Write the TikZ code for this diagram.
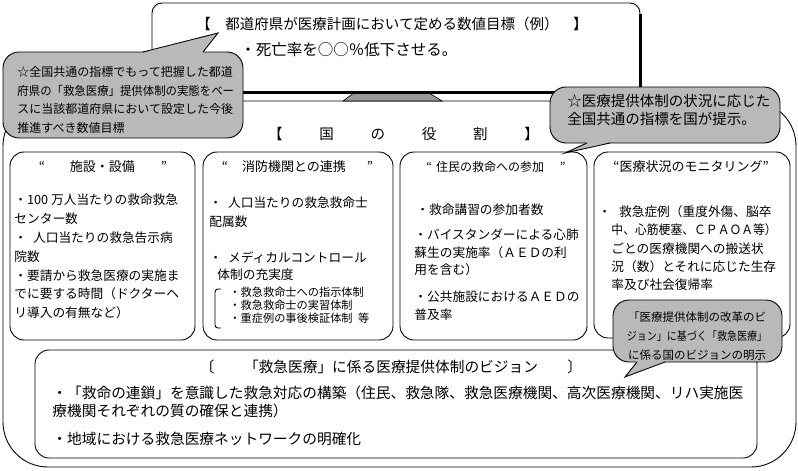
\documentclass[tikz,border=0pt]{standalone}
\usepackage{fontspec}
\usepackage{graphicx}
\setmainfont{Noto Sans CJK JP}

\begin{document}
\begin{tikzpicture}[x=1pt, y=-1pt, line width=0.9pt,
	panel/.style={draw, rounded corners=14pt},
	balloon/.style={fill=gray!55, draw, rounded corners=16pt},
	txt/.style={anchor=west, align=left, inner sep=0pt, font=\fontsize{12.7}{18.8}\selectfont},
	head/.style={inner sep=0pt, font=\fontsize{13}{15}\selectfont}]
	\useasboundingbox (0,0) rectangle (798,471);

	% outer frame and top box
	\draw[rounded corners=45pt] (3,101) rectangle (796,467);
	\draw[rounded corners=10pt] (152,92) -- (152,3) -- (640,3) -- (640,92);
	\draw[line width=3pt] (640,14) -- (640,92) -- (150,92);
	\filldraw[fill=black!40, line width=0.6pt] (353,93.5) -- (343,101) -- (442,101) -- (430,93.5) -- cycle;

	% four panels and the vision box
	\draw[panel] (10,152) rectangle (195,340);
	\draw[panel] (203,152) rectangle (393,340);
	\draw[panel] (400,152) rectangle (587,340);
	\draw[panel] (594,152) rectangle (790,338);
	\draw[panel] (35,350) rectangle (757,458);
	\draw[rounded corners=3pt] (221,289) -- (215,289) -- (215,328) -- (221,328);

	% balloons
	\draw[balloon] (3,52) rectangle (243,138);
	\fill[gray!55] (143,52.8) -- (218,33) -- (203,52.8) -- cycle;
	\draw (143,52) -- (218,33) -- (203,52);

	\draw[balloon] (550,87) rectangle (780,143);
	\fill[gray!55] (587,142.2) -- (565,153) -- (610,142.2) -- cycle;
	\draw (587,143) -- (565,153) -- (610,143);

	\draw[balloon] (613,300) rectangle (782,362);
	\fill[gray!55] (637,361.2) -- (625,377) -- (665,361.2) -- cycle;
	\draw (637,362) -- (625,377) -- (665,362);

	% texts of the top box
	\node[inner sep=0pt, font=\fontsize{14.5}{16}\selectfont] (goal) at (392,24) {【　都道府県が医療計画において定める数値目標（例）　】};
	\node[anchor=west, inner sep=0pt, font=\fontsize{15.5}{17}\selectfont] (death) at (240,50) {・死亡率を○○％低下させる。};
	\node[inner sep=0pt, font=\fontsize{14.5}{16}\selectfont] (role) at (403.5,134) {【\hspace{36.8pt}国\hspace{36.8pt}の\hspace{36.8pt}役\hspace{36.8pt}割\hspace{36.8pt}】};

	% panel heads
	\node[head] (h1) at (103,167) {“\hspace{25pt}施設・設備\hspace{26pt}”};
	\node[head] (h2) at (297.5,167) {“\hspace{14pt}消防機関との連携\hspace{21pt}”};
	\node[head, font=\fontsize{12}{14}\selectfont] (h3) at (496,167) {“\hspace{4pt}住民の救命への参加\hspace{16pt}”};
	\node[head] (h4) at (691,167) {“医療状況のモニタリング”};

	% panel texts
	\node[txt] (b1) at (14,256.5) {・100 万人当たりの救命救急\\センター数\\・\hspace{6pt}人口当たりの救急告示病\\院数\\・要請から救急医療の実施ま\\でに要する時間（ドクターヘ\\リ導入の有無など）};

	\node[txt, font=\fontsize{12.7}{19}\selectfont] (b2a) at (209,212.5) {・\hspace{6pt}人口当たりの救急救命士\\配属数};
	\node[txt, font=\fontsize{12.7}{17}\selectfont] (b2b) at (209,266.5) {・\hspace{6pt}メディカルコントロール\\\hspace*{8pt}体制の充実度};
	\node[txt, font=\fontsize{11.2}{13}\selectfont] (b2c) at (229,305) {・救急救命士への指示体制\\・救急救命士の実習体制\\・重症例の事後検証体制\hspace{0.5em}等};

	\node[txt] (b3a) at (416,210) {・救命講習の参加者数};
	\node[txt, font=\fontsize{12.7}{17.5}\selectfont] (b3b) at (414,252.5) {・バイスタンダーによる心肺\\蘇生の実施率（ＡＥＤの利\\用を含む）};
	\node[txt, font=\fontsize{12.7}{18}\selectfont] (b3c) at (414,306) {・公共施設におけるＡＥＤの\\普及率};

	\node[txt] (b4a) at (598,212) {・\hspace{8pt}救急症例（重度外傷、脳卒};
	\node[txt, font=\fontsize{12.7}{18.3}\selectfont] (b4b) at (611,257.5) {\scalebox{0.93}[1]{中、心筋梗塞、ＣＰＡＯＡ等）}\\ごとの医療機関への搬送状\\況（数）とそれに応じた生存\\率及び社会復帰率};

	% vision box texts
	\node[inner sep=0pt, font=\fontsize{14.7}{16}\selectfont] (vis) at (391,367) {〔　　「救急医療」に係る医療提供体制のビジョン　　〕};
	\node[txt, font=\fontsize{14.7}{18.5}\selectfont] (v1) at (52,402) {・「救命の連鎖」を意識した救急対応の構築（住民、救急隊、救急医療機関、高次医療機関、リハ実施医\\療機関それぞれの質の確保と連携）};
	\node[txt, font=\fontsize{14.7}{16}\selectfont] (v2) at (52,439) {・地域における救急医療ネットワークの明確化};

	% balloon texts
	\node[txt, font=\fontsize{12}{18.7}\selectfont] (lc) at (17,100) {☆全国共通の指標でもって把握した都道\\\scalebox{0.95}[1]{府県の「救急医療」提供体制の実態をベー}\\スに当該都道府県において設定した今後\\推進すべき数値目標};
	\node[txt, font=\fontsize{14.5}{18}\selectfont] (rc) at (567,109.5) {☆医療提供体制の状況に応じた\\全国共通の指標を国が提示。};
	\node[inner sep=0pt, align=center, font=\fontsize{11.5}{19}\selectfont] (bc) at (697,336) {「医療提供体制の改革のビ\\\scalebox{0.87}[1]{ジョン」に基づく「救急医療」}\\に係る国のビジョンの明示};
\end{tikzpicture}
\end{document}
